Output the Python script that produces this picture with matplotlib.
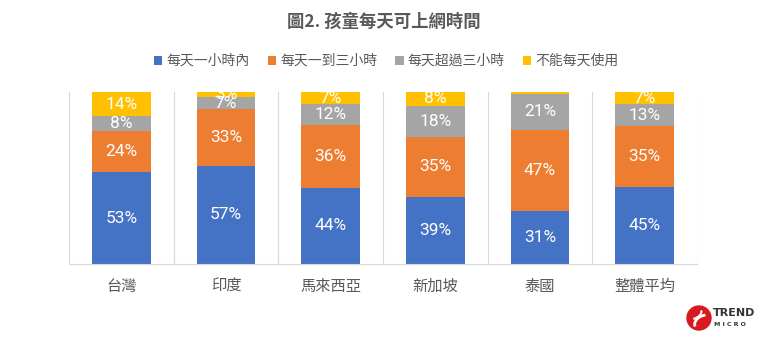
import matplotlib
matplotlib.use("Agg")
import matplotlib.pyplot as plt
from matplotlib.patches import Circle, Arc
import numpy as np

plt.rcParams['font.family'] = ['Noto Sans CJK TC', 'DejaVu Sans']

categories = ['台灣', '印度', '馬來西亞', '新加坡', '泰國', '整體平均']
series_names = ['每天一小時內', '每天一到三小時', '每天超過三小時', '不能每天使用']
under_1h = [53.4, 57, 44.4, 39, 31, 45]
one_to_3h = [24.2, 33, 36.3, 35, 47, 35]
over_3h = [8.2, 7, 12.1, 18, 21, 13]
not_daily = [14.2, 3, 7.2, 8, 1, 7]
colors = ['#4472C4', '#ED7D31', '#A5A5A5', '#FFC000']
title = '圖2. 孩童每天可上網時間'

fig = plt.figure(figsize=(7.68, 3.37), dpi=100)
ax = fig.add_axes([69/768, 1-264/337, (697-69)/768, (264-92)/337])

x = np.arange(len(categories))
bottom = np.zeros(len(categories))
series = [under_1h, one_to_3h, over_3h, not_daily]
for name, vals, c in zip(series_names, series, colors):
    vals = np.array(vals, dtype=float)
    ax.bar(x, vals, 0.56, bottom=bottom, color=c, label=name, zorder=2)
    for xi, b, v in zip(x, bottom, vals):
        if v >= 2:
            ax.text(xi, b + v/2, f'{v:.0f}%', ha='center', va='center', color='white',
                    fontsize=12.5, clip_on=True, zorder=3,
                    family=['Roboto', 'DejaVu Sans'])
    bottom += vals

ax.set_xlim(-0.5, len(categories) - 0.5)
ax.set_ylim(0, 100)
ax.set_yticks([])
ax.set_xticks(x)
ax.set_xticklabels(categories, fontsize=11, color='#595959')
ax.tick_params(axis='x', length=0, pad=10)
for s in ['top', 'right', 'left']:
    ax.spines[s].set_visible(False)
ax.spines['bottom'].set_color('#D9D9D9')
for b in np.arange(-0.5, len(categories), 1.0):
    ax.axvline(b, color='#D9D9D9', lw=0.8, zorder=1)

fig.text(0.5, 1-22/337, title, ha='center', va='center', fontsize=12.5,
         fontweight='bold', color='#595959')

handles, labels = ax.get_legend_handles_labels()
fig.legend(handles, labels, loc='center', bbox_to_anchor=(0.503, 1-61/337), ncol=4,
           frameon=False, fontsize=10, handlelength=0.6, handleheight=0.6,
           handletextpad=0.3, columnspacing=1.3, labelcolor='#595959')

# logo
logo_ax = fig.add_axes([0, 0, 1, 1], facecolor='none')
logo_ax.set_xlim(0, 768)
logo_ax.set_ylim(337, 0)
logo_ax.axis('off')
logo_ax.add_patch(Circle((699, 318), 12, color='#D71920'))
logo_ax.add_patch(Arc((703, 322), 18, 12, angle=-30, theta1=180, theta2=320,
                      color='white', lw=2))
logo_ax.add_patch(Arc((695, 314), 14, 8, angle=-30, theta1=0, theta2=140,
                      color='white', lw=1.5))
logo_ax.text(713, 313, 'TREND', fontsize=8, fontweight='bold', color='#333333',
             va='center', ha='left', family='DejaVu Sans')
logo_ax.text(714, 324, 'M I C R O', fontsize=4.5, fontweight='bold', color='#333333',
             va='center', ha='left', family='DejaVu Sans')

fig.savefig('out.png', dpi=100)
